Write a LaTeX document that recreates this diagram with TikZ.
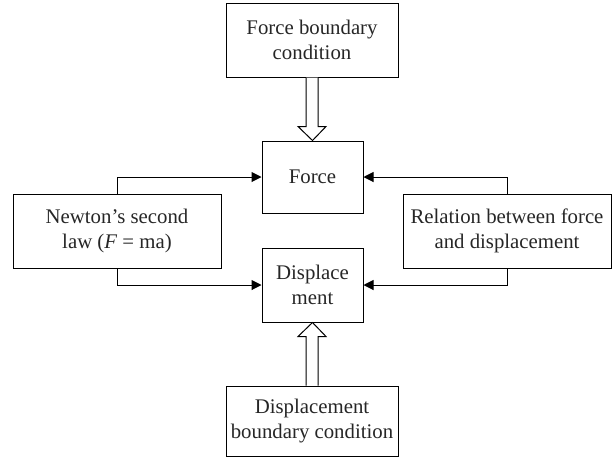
\documentclass[tikz,border=0pt]{standalone}
\usepackage{fontspec}
\setmainfont{Liberation Serif}
\usetikzlibrary{arrows.meta,calc}
\begin{document}
\begin{tikzpicture}[x=1pt,y=-1pt,
  box/.style={draw,line width=1pt,align=center,inner sep=0pt,
    font=\fontsize{20.8}{25}\selectfont,text=black!85},
  conn/.style={line width=1pt,-{Triangle[length=10pt,width=10pt]}},
  hollow/.style={draw,line width=1pt,fill=white}]
\useasboundingbox (0,0) rectangle (615,459);
\node[box,minimum width=172pt,minimum height=74pt] (top) at (312,40) {Force boundary\\condition};
\node[box,minimum width=101pt,minimum height=72pt] (force) at (312.5,177) {Force};
\node[box,minimum width=101pt,minimum height=74pt] (disp) at (312.5,285) {Displace\\ment};
\node[box,minimum width=172pt,minimum height=70pt] (bot) at (312,421) {Displacement\\boundary condition};
\node[box,minimum width=208pt,minimum height=74pt] (left) at (117,231) {Newton’s second\\law (\textit{F} = ma)};
\node[box,minimum width=208pt,minimum height=74pt] (right) at (507,231) {Relation between force\\and displacement};
% hollow arrows
\draw[hollow] ($(top.south)+(-6,0)$) -- ($(force.north)+(-6.5,-14)$) -- ($(force.north)+(-14.5,-14)$)
  -- (force.north) -- ($(force.north)+(13.5,-14)$) -- ($(force.north)+(5.5,-14)$) -- ($(top.south)+(6,0)$);
\draw[hollow] ($(bot.north)+(-6,0)$) -- ($(disp.south)+(-6.5,14)$) -- ($(disp.south)+(-14.5,14)$)
  -- (disp.south) -- ($(disp.south)+(13.5,14)$) -- ($(disp.south)+(5.5,14)$) -- ($(bot.north)+(6,0)$);
% connectors
\draw[conn] (left.north) |- (force.west);
\draw[conn] (left.south) |- (disp.west);
\draw[conn] (right.north) |- (force.east);
\draw[conn] (right.south) |- (disp.east);
\end{tikzpicture}
\end{document}
